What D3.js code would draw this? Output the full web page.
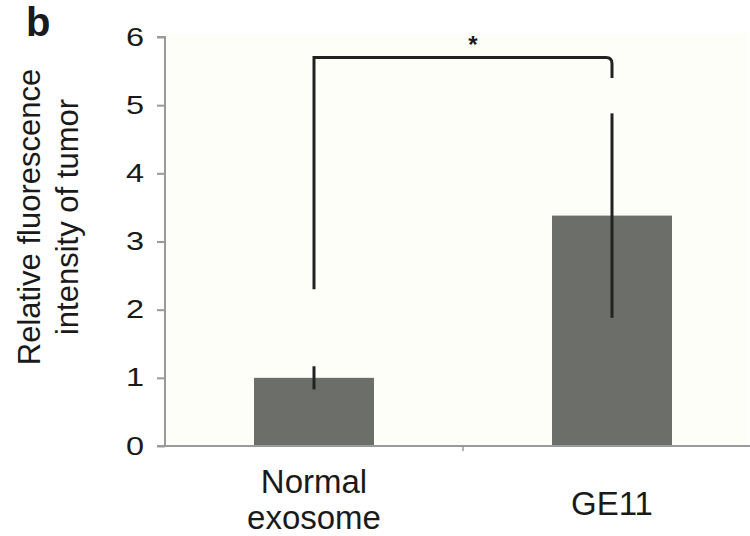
<!DOCTYPE html>
<html>
<head>
<meta charset="utf-8">
<script src="https://cdn.jsdelivr.net/npm/d3@7"></script>
<style>
  body { margin: 0; background: #fff; }
  text { font-family: "Liberation Sans", Arial, sans-serif; fill: #1a1a1a; }
</style>
</head>
<body>
<div id="chart"></div>
<script>
// data
var categories = ["Normal exosome", "GE11"];
var catLines = [["Normal", "exosome"], ["GE11"]];
var means = [1.0, 3.38];
var errors = [0.17, 1.5];
var yTicks = [0, 1, 2, 3, 4, 5, 6];
// significance bracket: left leg bottom, top, right leg bottom
var bracket = [2.3, 5.7, 5.4];

var svgWidth = 750, svgHeight = 536;

var svg = d3.select("#chart").append("svg")
    .attr("width", svgWidth)
    .attr("height", svgHeight);

var yScale = d3.scaleLinear().domain([0, 6]).range([446, 37]);
var xScale = d3.scalePoint().domain(categories).range([165, 761]).padding(0.5);
var barWidth = 120;

// plot background
svg.append("rect")
    .attr("x", 166).attr("y", 33)
    .attr("width", 582).attr("height", yScale(0) - 33)
    .attr("fill", "#fefef9");

// bars
svg.selectAll(".bar")
    .data(categories)
    .enter().append("rect")
    .attr("class", "bar")
    .attr("x", d => xScale(d) - barWidth / 2)
    .attr("y", (d, i) => yScale(means[i]))
    .attr("width", barWidth)
    .attr("height", (d, i) => yScale(0) - yScale(means[i]))
    .attr("fill", "#6b6e69");

// error bars (no caps)
svg.selectAll(".err")
    .data(categories)
    .enter().append("line")
    .attr("x1", d => xScale(d)).attr("x2", d => xScale(d))
    .attr("y1", (d, i) => yScale(means[i] + errors[i]))
    .attr("y2", (d, i) => yScale(means[i] - errors[i]))
    .attr("stroke", "#222").attr("stroke-width", 3);

// y axis
var yAxis = svg.append("g")
    .attr("transform", "translate(165,0)")
    .call(d3.axisLeft(yScale).tickValues(yTicks).tickSize(8).tickPadding(0).tickFormat(d3.format("d")));
yAxis.select(".domain").attr("stroke", "#9a9a9a").attr("stroke-width", 2)
    .attr("d", "M-8," + yScale(6) + "H0V" + yScale(0));
yAxis.selectAll(".tick line").attr("stroke", "#9a9a9a").attr("stroke-width", 2);
// the digits in the figure are drawn a little wide
yAxis.selectAll(".tick text")
    .attr("x", 0)
    .attr("transform", "translate(-21,0) scale(1.3,1)")
    .attr("font-size", 25).attr("fill", "#1a1a1a")
    .attr("font-family", "Liberation Sans, Arial, sans-serif");

// x axis line with middle tick
var xAxis = svg.append("g").attr("transform", "translate(0," + yScale(0) + ")");
xAxis.append("line").attr("x1", 157).attr("x2", 750).attr("y1", 0).attr("y2", 0)
    .attr("stroke", "#9a9a9a").attr("stroke-width", 2);
var midX = (xScale(categories[0]) + xScale(categories[1])) / 2;
xAxis.append("line").attr("x1", midX).attr("x2", midX).attr("y1", 0).attr("y2", 5)
    .attr("stroke", "#9a9a9a").attr("stroke-width", 1.5);

// category labels
categories.forEach(function(c, i) {
  var lines = catLines[i];
  var t = xAxis.append("text")
      .attr("text-anchor", "middle")
      .attr("font-size", 33)
      .attr("x", xScale(c))
      .attr("y", lines.length > 1 ? 47 : 69);
  lines.forEach(function(l, j) {
    t.append("tspan").attr("x", xScale(c)).attr("dy", j === 0 ? 0 : 36).text(l);
  });
});

// y axis title
var title = svg.append("text")
    .attr("transform", "translate(0," + 217 + ") rotate(-90)")
    .attr("text-anchor", "middle")
    .attr("font-size", 31);
title.append("tspan").attr("x", 0).attr("y", 40).text("Relative fluorescence");
title.append("tspan").attr("x", 0).attr("y", 78).text("intensity of tumor");

// panel letter
svg.append("text").attr("x", 26).attr("y", 36)
    .attr("font-size", 40).attr("font-weight", "bold").text("b");

// significance bracket
var x1 = xScale(categories[0]), x2 = xScale(categories[1]);
var r = 6;
svg.append("path")
    .attr("d", "M" + x1 + "," + yScale(bracket[0]) +
               "V" + yScale(bracket[1]) +
               "H" + (x2 - r) +
               "Q" + x2 + "," + yScale(bracket[1]) + " " + x2 + "," + (yScale(bracket[1]) + r) +
               "V" + yScale(bracket[2]))
    .attr("fill", "none").attr("stroke", "#222").attr("stroke-width", 3);

svg.append("text")
    .attr("x", midX + 10).attr("y", yScale(bracket[1]) - 4)
    .attr("text-anchor", "middle").attr("font-size", 24).attr("font-weight", "bold")
    .text("*");
</script>
</body>
</html>
